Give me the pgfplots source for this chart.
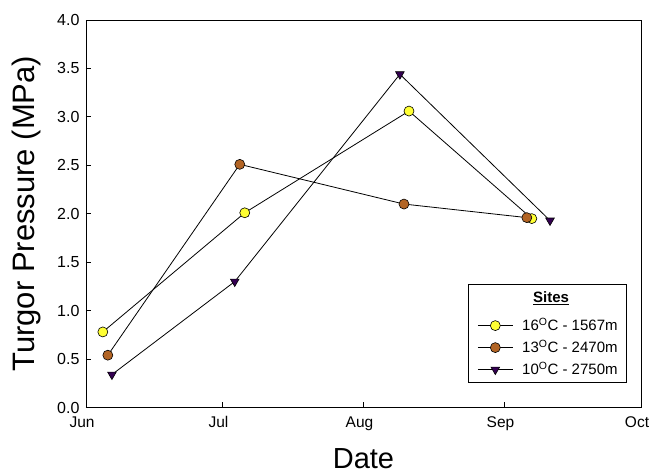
\documentclass[border=0pt]{standalone}
\usepackage{fontspec}
\setmainfont{Liberation Sans}
\usepackage{pgfplots}
\pgfplotsset{compat=1.18}
\definecolor{cyel}{RGB}{255,255,51}
\definecolor{cbrn}{RGB}{178,100,36}
\definecolor{cpur}{RGB}{52,0,82}
\begin{document}
\begin{tikzpicture}
\useasboundingbox (-86pt,-68.5pt) rectangle (565pt,407.5pt);
\begin{axis}[
  scale only axis,
  width=555pt, height=387.5pt,
  xmin=152, xmax=274, ymin=0, ymax=4,
  xtick={152,182,213,244,274},
  xticklabels={Jun,Jul,Aug,Sep,Oct},
  ytick={0,0.5,...,4.0},
  /pgf/number format/assume math mode=true,
  /pgf/number format/fixed, /pgf/number format/fixed zerofill, /pgf/number format/precision=1,
  tick align=inside, xtick pos=bottom, ytick pos=left,
  major tick length=5.5pt,
  tick style={black, line width=0.8pt},
  axis line style={line width=0.8pt},
  xticklabel style={font=\fontsize{15.5}{17}\selectfont, anchor=base, yshift=-20.5pt, xshift=-4pt},
  yticklabel style={font=\fontsize{16}{18}\selectfont, xshift=-3pt},
  xlabel={Date}, ylabel={Turgor Pressure (MPa)},
  xlabel style={font=\fontsize{29}{32}\selectfont, at={(axis description cs:0.5,-0.1585)}, anchor=base, inner sep=0pt},
  ylabel style={font=\fontsize{31}{34}\selectfont, at={(axis description cs:-0.0919,0.5)}, anchor=base},
  legend style={at={(0.9748,0.0632)}, anchor=south east, draw=black, line width=0.8pt,
    font=\fontsize{15}{17}\selectfont, inner xsep=9pt, inner ysep=5pt,
    nodes={inner sep=0pt, text height=13pt, text depth=3pt},
    column sep=9pt, row sep=6pt},
  legend cell align=left,
  every axis plot/.append style={black, line width=0.8pt, mark size=5pt,
    legend image code/.code={\draw[mark repeat=2,mark phase=2,##1] plot coordinates {(0pt,0pt) (17.5pt,0pt) (35pt,0pt)};}},
]
\addlegendimage{empty legend}
\addlegendentry[text depth=9pt]{\hspace*{11pt}\textbf{\underline{Sites}}}
\addplot[mark=*, mark options={fill=cyel, line width=0.6pt}] coordinates {
 (155.7,0.78) (186.9,2.01) (223.0,3.06) (250.0,1.95)};
\addlegendentry{16\textsuperscript{O}C - 1567m}
\addplot[mark=*, mark options={fill=cbrn, line width=0.6pt}] coordinates {
 (156.8,0.54) (185.8,2.51) (221.9,2.10) (248.9,1.96)};
\addlegendentry{13\textsuperscript{O}C - 2470m}
\addplot[mark=triangle*, mark options={fill=cpur, rotate=180, line width=0.6pt}] coordinates {
 (157.7,0.34) (184.7,1.30) (221.0,3.44) (254.0,1.93)};
\addlegendentry{10\textsuperscript{O}C - 2750m}
\end{axis}
\end{tikzpicture}
\end{document}
